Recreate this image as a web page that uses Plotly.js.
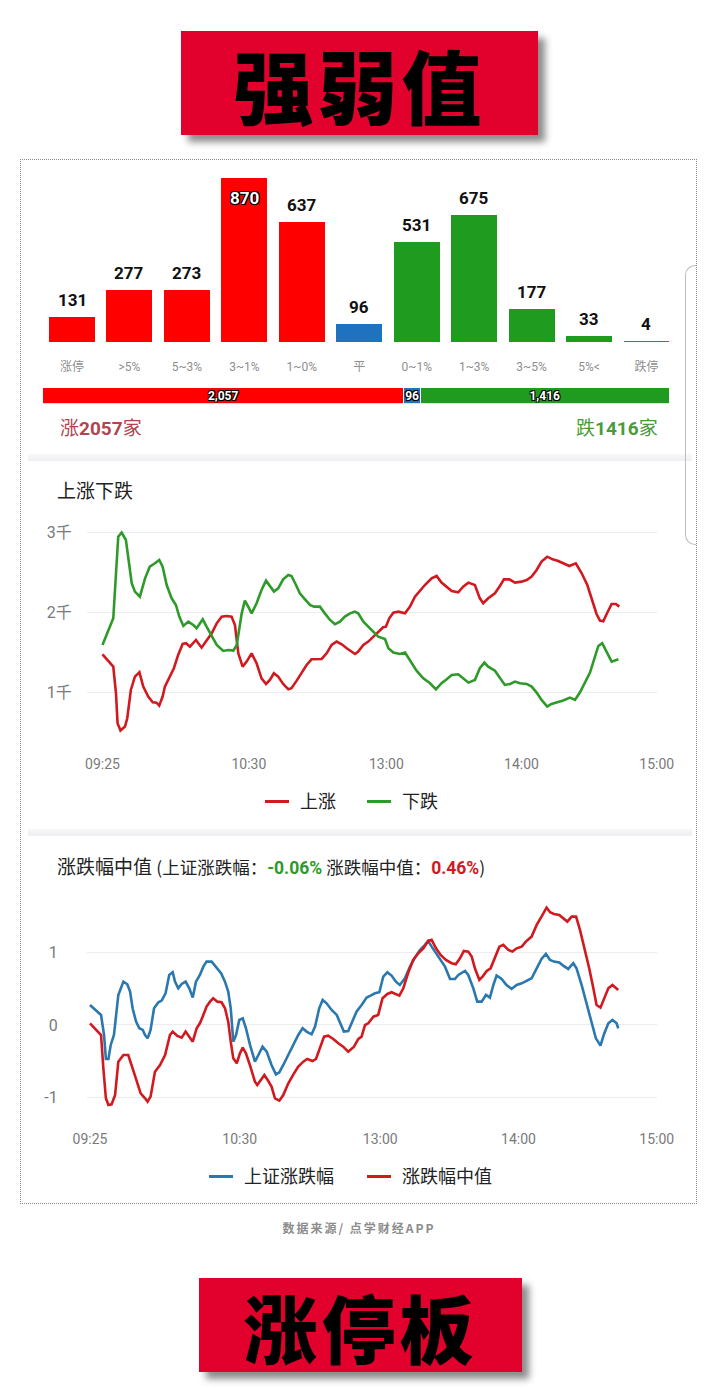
<!DOCTYPE html>
<html>
<head>
<meta charset="utf-8">
<script src="https://cdn.plot.ly/plotly-3.0.1.min.js"></script>
<style>
  html, body { margin: 0; padding: 0; background: #ffffff; }
  #wrap { position: relative; width: 718px; height: 1387px; overflow: hidden; background: #fff;
          font-family: Roboto, "Noto Sans CJK SC", sans-serif; }
  #chart { position: absolute; left: 0; top: 0; width: 718px; height: 1387px; z-index: 2; }
  .banner { position: absolute; background: #e2002c; box-shadow: 7px 7px 7px rgba(0,0,0,0.45);
            display: flex; align-items: center; justify-content: center; color: #000;
            font-family: "Noto Sans CJK SC", sans-serif; font-weight: 900; z-index: 3; }
  #box { position: absolute; left: 20px; top: 159px; width: 677px; height: 1045px; box-sizing: border-box;
         border: 1px dotted #8a8a8a; z-index: 4; pointer-events: none; }
  .sep { position: absolute; left: 28px; width: 664px; height: 7px; z-index: 1;
         background: linear-gradient(#f8f8fa, #efeff1); }
  #scroll { position: absolute; left: 685px; top: 265px; width: 11px; height: 280px; box-sizing: border-box;
            border: 1px solid #bdbdbd; border-right: none; border-radius: 10px 0 0 10px; z-index: 1; }
  #foot { position: absolute; left: 0; width: 718px; top: 1219px; text-align: center; font-size: 12px;
          font-weight: bold; letter-spacing: 2px; color: #8c8c8c; z-index: 3;
          font-family: "Noto Sans CJK SC", sans-serif; }
</style>
</head>
<body>
<div id="wrap">
  <div class="banner" style="left:181px;top:31px;width:357px;height:104px;font-size:80px;letter-spacing:4px;">强弱值</div>
  <div class="sep" style="top:454px;"></div>
  <div class="sep" style="top:829px;"></div>
  <div id="scroll"></div>
  <div id="chart"></div>
  <div id="box"></div>
  <div id="foot">数据来源/ 点学财经APP</div>
  <div class="banner" style="left:199px;top:1278px;width:323px;height:94px;font-size:74px;letter-spacing:4px;">涨停板</div>
</div>
<script>
// ---------------- DATA ----------------
const barCategories = ['涨停', '>5%', '5~3%', '3~1%', '1~0%', '平', '0~1%', '1~3%', '3~5%', '5%<', '跌停'];
const barValues = [131, 277, 273, 870, 637, 96, 531, 675, 177, 33, 4];
const barGroups = ['up', 'up', 'up', 'up', 'up', 'flat', 'down', 'down', 'down', 'down', 'down'];

const breadthNames = ['涨', '平', '跌'];
const breadthValues = [2057, 96, 1416];

// minutes after 09:25 (trading-time axis)
const timeTickVals = [0, 65, 126, 186, 246];
const timeTickText = ['09:25', '10:30', '13:00', '14:00', '15:00'];

const upMinutes = [0,2.1,4.8,6,6.7,8,10,11,12.6,14.4,16.4,18.1,20.3,22.3,24,25.2,26.7,27.7,29.9,31.7,33.6,35.6,37.1,38.8,41.5,44,45.9,48.5,50.7,52.9,55.1,57.3,58.8,60.3,62.2,64,66.2,68.4,70.6,72.6,74.3,76.1,78,80.2,82.5,83.9,86.2,88.4,90.6,92.8,95,97.3,99.5,101.7,103.9,106.2,108.4,110.6,112.1,113.5,115.8,118,120.2,122.4,124.6,125.8,127.3,129.1,131.3,134.3,136.5,138.7,141,143.1,146.1,148.3,150.5,152.8,155,157.9,160.1,162.4,165.3,167.5,169,171.2,174.2,176.4,178.2,180.6,183.1,186,188.3,190.5,192.7,194.9,197.4,199.8,202.3,204.5,207.2,210.1,212.7,215.2,217.5,219.3,220.8,222.3,223.8,226,227.9,229.4];
const upCount = [1474,1403,1319,985,610,518,568,672,1027,1194,1248,1069,944,873,868,831,944,1069,1203,1299,1466,1603,1612,1570,1653,1557,1633,1737,1862,1946,1954,1946,1841,1486,1319,1382,1486,1361,1173,1102,1153,1236,1194,1102,1035,1048,1144,1236,1340,1411,1415,1415,1486,1591,1633,1599,1549,1507,1478,1507,1591,1633,1695,1758,1812,1820,1925,1996,2008,1987,2071,2196,2280,2342,2426,2455,2372,2322,2267,2251,2322,2372,2342,2175,2113,2175,2238,2330,2413,2413,2372,2384,2405,2447,2530,2635,2697,2664,2643,2614,2580,2614,2489,2342,2154,1979,1896,1887,1979,2104,2104,2071];

const downMinutes = [0,4.8,7,8.5,10.4,11.5,13,14.4,16.6,18.9,21,23.3,25.2,26.7,28.5,30.7,32.6,34.1,35.9,38.1,40.3,41.8,44.5,46.2,48.5,50.7,53.6,55.9,58.1,59.6,61.8,63.2,64.7,66.2,68.4,70.6,72.6,74.3,76.1,78,80.2,82.5,83.9,85.9,87.6,89.9,92.1,93.9,96.5,98.7,101,103.2,105.4,107.6,109.9,112,113.5,115.8,118,120.2,122.4,125.4,126.9,129.1,132,134.3,136.5,139.4,142.4,145.4,148,150.5,152.8,155,157.9,160.1,162.4,165.3,167.5,169.5,171.2,174.2,176.4,178.6,180.9,183.1,185.3,188.3,190.5,192.7,194.9,197.4,199.3,201.6,204.5,207.5,209.7,211.9,214.1,216.4,218.6,220.1,221.8,223.8,226,229];
const downCount = [1591,1925,2948,3000,2906,2697,2363,2259,2196,2426,2572,2614,2656,2572,2342,2175,2092,1946,1829,1883,1841,1800,1912,1820,1695,1591,1516,1528,1520,1591,1987,2146,2071,1987,2113,2280,2397,2322,2259,2301,2413,2468,2455,2342,2238,2163,2092,2071,2071,1987,1904,1850,1883,1946,1987,2008,1987,1883,1820,1758,1695,1666,1549,1495,1478,1495,1403,1269,1173,1111,1035,1111,1161,1215,1223,1173,1119,1153,1299,1370,1319,1269,1173,1090,1102,1132,1111,1102,1069,994,902,818,851,868,894,931,902,994,1111,1244,1445,1578,1612,1495,1382,1411];

const shMinutes = [0,2.2,4.8,6.1,6.9,8,9,10.4,12.3,14.5,16.2,17.4,18.5,20,21.4,22.9,23.9,25,26.3,27.8,29.7,31.1,32.8,34.4,35.9,36.9,38.3,39.8,41.5,43.1,44.6,46,47.7,49.2,50.6,52.8,55,56.9,58.6,60,61.1,62.2,63.4,64.8,66.3,67.7,69.4,71.6,73.1,74.9,76.7,78.8,80.7,82.2,83.9,86.1,88.3,90.4,92.3,94,96.2,97.7,99.5,101,102.7,104.9,107.1,108.8,110.2,112.1,114.3,115.7,117.9,120.1,121.8,123.7,125.6,127.3,129.1,130.9,132.8,134.5,136.7,138.9,141,143.2,145.4,146.8,148.3,150.2,151.9,154.1,156.3,158.4,159.9,161.3,162.8,164.2,166.4,168.1,170,171.9,173.6,175.1,176.5,178.7,180.8,183,185.2,187.4,189.5,191.7,193.9,196,197.9,199.7,201.4,203.7,205.4,207.6,209.8,211.2,213.4,215.6,217.7,219.6,221.6,223.1,225,226.8,228.6,229.3];
const shChange = [0.277,0.208,0.139,-0.139,-0.471,-0.471,-0.277,-0.139,0.416,0.600,0.564,0.462,0.231,0.046,-0.046,-0.069,-0.139,-0.185,-0.069,0.231,0.314,0.337,0.439,0.693,0.730,0.600,0.508,0.568,0.600,0.508,0.379,0.600,0.693,0.808,0.878,0.878,0.794,0.716,0.600,0.462,0.231,-0.231,-0.139,0.069,0.092,-0.046,-0.268,-0.508,-0.416,-0.300,-0.370,-0.554,-0.684,-0.656,-0.554,-0.416,-0.277,-0.139,-0.046,-0.092,-0.129,-0.023,0.231,0.346,0.300,0.208,0.139,0.023,-0.092,-0.083,0.092,0.185,0.277,0.379,0.406,0.439,0.453,0.670,0.730,0.684,0.600,0.554,0.647,0.808,0.933,1.039,1.109,1.164,1.085,0.993,0.901,0.808,0.637,0.637,0.693,0.716,0.748,0.693,0.508,0.323,0.323,0.416,0.379,0.554,0.684,0.637,0.554,0.499,0.554,0.577,0.614,0.647,0.785,0.915,0.984,0.901,0.878,0.864,0.822,0.776,0.855,0.785,0.554,0.300,0.046,-0.185,-0.286,-0.129,0.023,0.069,0.023,-0.046];

const medMinutes = [0,2.2,4.8,5.8,6.9,8,9.4,10.9,12.3,14.5,16.6,18.5,20.3,22,23.9,25,26.3,28.2,30.4,32.6,34.7,35.9,37.9,39.8,41.5,43.1,44.6,46.3,47.7,48.9,50.6,52.1,53.5,55.3,57.1,58.6,60,61.1,62.2,63.7,65.1,66.3,67.7,69.4,71.6,72.6,74.1,75.7,77.4,78.8,80.3,82.2,83.9,86.1,88.3,90.4,92.6,94.3,96.6,98.1,99.5,101.6,103.4,105.6,107.8,109.9,112.1,114.6,116.5,117.9,119.4,120.8,123,125.1,127,129.1,130.9,134.3,136,138.2,140.3,142.5,144.7,146.8,148.3,150.2,152.2,154.5,157,158.8,160.6,162.3,164.2,165.7,167.1,169,170.4,172.2,173.9,175.8,177.7,179.4,181.6,183.4,185.2,187.4,189.2,191.7,193.9,196,198.2,199.7,201.4,203.7,205.7,207.2,209.1,211,212.7,214.9,216.7,218.5,219.9,221.6,223.1,225,226.8,228.6,229.3];
const medChange = [0.023,-0.046,-0.139,-0.600,-1.016,-1.109,-1.099,-0.970,-0.508,-0.416,-0.416,-0.600,-0.785,-0.947,-1.016,-1.062,-0.993,-0.647,-0.554,-0.416,-0.139,-0.092,-0.152,-0.175,-0.092,-0.162,-0.231,-0.046,0.023,0.115,0.254,0.323,0.370,0.323,0.314,0.231,0.046,-0.231,-0.462,-0.531,-0.393,-0.314,-0.393,-0.554,-0.785,-0.831,-0.762,-0.693,-0.776,-0.854,-1.016,-1.048,-0.970,-0.808,-0.684,-0.577,-0.508,-0.471,-0.499,-0.471,-0.346,-0.162,-0.148,-0.194,-0.254,-0.300,-0.370,-0.300,-0.194,-0.162,0.000,0.023,0.115,0.139,0.370,0.430,0.453,0.406,0.508,0.730,0.901,0.993,1.062,1.164,1.178,1.062,0.970,0.901,0.855,0.841,0.924,1.025,1.016,0.947,0.785,0.624,0.670,0.748,0.785,0.933,1.085,1.109,1.039,1.016,1.062,1.085,1.155,1.224,1.386,1.501,1.626,1.561,1.538,1.524,1.478,1.432,1.501,1.501,1.316,1.039,0.785,0.508,0.277,0.240,0.370,0.508,0.554,0.508,0.485];

const shLatest = '-0.06%';
const medLatest = '0.46%';

// ---------------- STYLE / LAYOUT ----------------
const W = 718, H = 1387;
const fx = v => v / W;
const fy = v => 1 - v / H;
const FONT = 'Roboto, "Noto Sans CJK SC", sans-serif';
const CJK = '"Noto Sans CJK SC", Roboto, sans-serif';
const groupColor = { up: '#ff0000', flat: '#1f72c0', down: '#1f9c1f' };
const RED_LINE = '#d2191f', GREEN_LINE = '#2e9a2a', BLUE_LINE = '#2a78ae';
const outline = '-1px -1px 0 #000, 1px -1px 0 #000, -1px 1px 0 #000, 1px 1px 0 #000';

const barYMax = 910.8;
const breadthTotal = breadthValues.reduce((a, b) => a + b, 0);
const breadthColors = ['#ff0000', '#1f72c0', '#1f9c1f'];

const traces = [];
traces.push({
  type: 'bar', x: barCategories, y: barValues, xaxis: 'x', yaxis: 'y', width: 0.8,
  marker: { color: barGroups.map(g => groupColor[g]) }, hoverinfo: 'skip', showlegend: false
});
breadthValues.forEach((v, i) => {
  traces.push({
    type: 'bar', orientation: 'h', x: [v], y: [0], xaxis: 'x2', yaxis: 'y2', width: 1,
    name: breadthNames[i], marker: { color: breadthColors[i], line: { color: '#ffffff', width: 1 } },
    text: [v.toLocaleString('en-US')], textposition: 'inside', insidetextanchor: 'middle',
    constraintext: 'none', textangle: 0,
    insidetextfont: { family: FONT, size: 12, color: '#ffffff', weight: 'bold', shadow: outline },
    hoverinfo: 'skip', showlegend: false
  });
});
traces.push({ type: 'scatter', mode: 'lines', x: upMinutes, y: upCount, xaxis: 'x3', yaxis: 'y3',
  name: '上涨', line: { color: RED_LINE, width: 2.6 }, showlegend: false, hoverinfo: 'skip' });
traces.push({ type: 'scatter', mode: 'lines', x: downMinutes, y: downCount, xaxis: 'x3', yaxis: 'y3',
  name: '下跌', line: { color: GREEN_LINE, width: 2.6 }, showlegend: false, hoverinfo: 'skip' });
traces.push({ type: 'scatter', mode: 'lines', x: shMinutes, y: shChange, xaxis: 'x4', yaxis: 'y4',
  name: '上证涨跌幅', line: { color: BLUE_LINE, width: 2.6 }, showlegend: false, hoverinfo: 'skip' });
traces.push({ type: 'scatter', mode: 'lines', x: medMinutes, y: medChange, xaxis: 'x4', yaxis: 'y4',
  name: '涨跌幅中值', line: { color: RED_LINE, width: 2.6 }, showlegend: false, hoverinfo: 'skip' });

const annotations = [];
const barPxPerUnit = (342 - 170) / barYMax;
barValues.forEach((v, i) => {
  const topPx = 342 - v * barPxPerUnit;
  const inside = topPx - 28 < 165;
  annotations.push({
    xref: 'x', yref: 'y', x: barCategories[i], y: v, text: String(v), showarrow: false,
    yanchor: 'middle', yshift: inside ? -20 : 17,
    font: inside ? { family: FONT, size: 17, color: '#ffffff', weight: 'bold', shadow: outline }
                 : { family: FONT, size: 17, color: '#111111', weight: 'bold' }
  });
});
annotations.push({ xref: 'paper', yref: 'paper', x: fx(58), y: fy(428), xanchor: 'left', yanchor: 'middle',
  showarrow: false, text: breadthNames[0] + '<b>' + breadthValues[0] + '</b>家',
  font: { family: FONT, size: 19, color: '#b3444f' } });
annotations.push({ xref: 'paper', yref: 'paper', x: fx(660), y: fy(428), xanchor: 'right', yanchor: 'middle',
  showarrow: false, text: breadthNames[2] + '<b>' + breadthValues[2] + '</b>家',
  font: { family: FONT, size: 19, color: '#4b9b3d' } });
annotations.push({ xref: 'paper', yref: 'paper', x: fx(55), y: fy(491), xanchor: 'left', yanchor: 'middle',
  showarrow: false, text: '上涨下跌', font: { family: FONT, size: 19, color: '#222222' } });
annotations.push({ xref: 'paper', yref: 'paper', x: fx(55), y: fy(865), xanchor: 'left', yanchor: 'middle',
  showarrow: false,
  text: '涨跌幅中值 <span style="font-size:17.5px">(上证涨跌幅：<b><span style="color:#2e9a2a;font-family:Roboto">' + shLatest +
        '</span></b> 涨跌幅中值：<b><span style="color:#d2191f;font-family:Roboto">' + medLatest + '</span></b>)</span>',
  font: { family: CJK, size: 19, color: '#222222' } });

// legends
const shapes = [];
function legendItem(x0, yc, color, label) {
  shapes.push({ type: 'line', xref: 'paper', yref: 'paper', x0: fx(x0), x1: fx(x0 + 24), y0: fy(yc), y1: fy(yc),
    line: { color: color, width: 3 } });
  annotations.push({ xref: 'paper', yref: 'paper', x: fx(x0 + 33), y: fy(yc), xanchor: 'left', yanchor: 'middle',
    showarrow: false, text: label, font: { family: FONT, size: 18, color: '#222222' } });
}
legendItem(265, 801.5, RED_LINE, '上涨');
legendItem(367, 801.5, GREEN_LINE, '下跌');
legendItem(209, 1176.5, BLUE_LINE, '上证涨跌幅');
legendItem(367, 1176.5, RED_LINE, '涨跌幅中值');

const gridColor = '#ececee';
const tickFontX = { family: FONT, size: 14, color: '#7a7a7a' };
const tickFontY = { family: FONT, size: 16, color: '#7a7a7a' };

const layout = {
  width: W, height: H, margin: { l: 0, r: 0, t: 0, b: 0 },
  paper_bgcolor: 'rgba(0,0,0,0)', plot_bgcolor: 'rgba(0,0,0,0)',
  barmode: 'stack', showlegend: false, font: { family: FONT },
  xaxis: { domain: [fx(43.3), fx(675.2)], type: 'category', range: [-0.5, 10.5], anchor: 'y',
           showgrid: false, zeroline: false, showline: false, ticks: '', ticklabelstandoff: 16,
           tickfont: { family: FONT, size: 12, color: '#8e8e8e' }, fixedrange: true },
  yaxis: { domain: [fy(342), fy(170)], range: [0, barYMax], visible: false, anchor: 'x', fixedrange: true },
  xaxis2: { domain: [fx(42.7), fx(669)], range: [0, breadthTotal], visible: false, anchor: 'y2' },
  yaxis2: { domain: [fy(403.7), fy(387.7)], range: [-0.5, 0.5], visible: false, anchor: 'x2' },
  xaxis3: { domain: [fx(86.7), fx(656.7)], range: [-7.0, 246], anchor: 'y3', tickmode: 'array',
            tickvals: timeTickVals, ticktext: timeTickText, showgrid: false, zeroline: false, showline: false,
            ticks: '', ticklabelstandoff: 14, tickfont: tickFontX },
  yaxis3: { domain: [fy(740), fy(520)], range: [399.8, 3156.6], anchor: 'x3', tickmode: 'array',
            tickvals: [1000, 2000, 3000], ticktext: ['1千', '2千', '3千'], showgrid: true, gridcolor: gridColor,
            gridwidth: 1, zeroline: false, showline: false, ticks: '', ticklabelstandoff: 14, tickfont: tickFontY },
  xaxis4: { domain: [fx(86.7), fx(656.7)], range: [-1.43, 246], anchor: 'y4', tickmode: 'array',
            tickvals: timeTickVals, ticktext: timeTickText, showgrid: false, zeroline: false, showline: false,
            ticks: '', ticklabelstandoff: 14, tickfont: tickFontX },
  yaxis4: { domain: [fy(1115), fy(900)], range: [-1.247, 1.731], anchor: 'x4', tickmode: 'array',
            tickvals: [-1, 0, 1], ticktext: ['-1', '0', '1'], showgrid: true, gridcolor: gridColor,
            gridwidth: 1, zeroline: false, showline: false, ticks: '', ticklabelstandoff: 28, tickfont: tickFontY },
  annotations: annotations, shapes: shapes
};

Plotly.newPlot('chart', traces, layout, { staticPlot: true, displayModeBar: false });
</script>
</body>
</html>
